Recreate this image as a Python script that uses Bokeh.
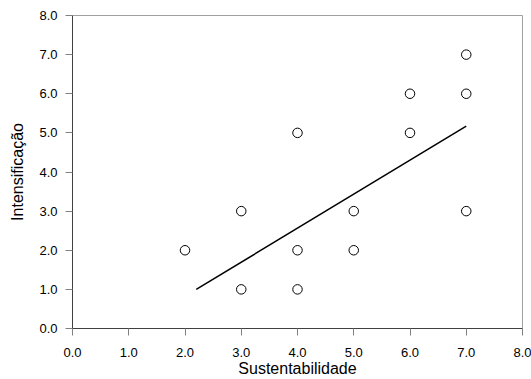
from bokeh.plotting import figure
from bokeh.models import Range1d, FixedTicker
from bokeh.embed import file_html
from bokeh.resources import INLINE

# data
sust = [2, 3, 3, 4, 4, 4, 5, 5, 6, 6, 7, 7, 7]
intens = [2, 3, 1, 5, 2, 1, 3, 2, 6, 5, 7, 6, 3]
fit_x = [2.2, 7.0]
fit_y = [1.0, 5.17]
ticks = [0, 1, 2, 3, 4, 5, 6, 7, 8]
tick_labels = {t: f"{t:.1f}" for t in ticks}

FONT = "Liberation Sans"

p = figure(width=531, height=379, output_backend="svg", toolbar_location=None,
           x_range=Range1d(0, 8), y_range=Range1d(0, 8),
           min_border_left=72, min_border_right=9, min_border_top=15, min_border_bottom=51)

p.grid.visible = False
p.outline_line_color = "#a0a0a0"
p.outline_line_width = 1

p.line(fit_x, fit_y, line_color="black", line_width=1.5)
p.scatter(sust, intens, marker="circle", size=9.5, fill_color="white",
          line_color="black", line_width=1)

for ax in (p.xaxis[0], p.yaxis[0]):
    ax.ticker = FixedTicker(ticks=ticks)
    ax.major_label_overrides = tick_labels
    ax.minor_tick_line_color = None
    ax.major_tick_in = 0
    ax.major_tick_out = 7
    ax.major_tick_line_color = "#808080"
    ax.axis_line_color = "#404040"
    ax.major_label_text_font = FONT
    ax.major_label_text_font_size = "13px"
    ax.major_label_text_color = "black"
    ax.axis_label_text_font = FONT
    ax.axis_label_text_font_size = "16px"
    ax.axis_label_text_font_style = "normal"
    ax.axis_label_text_color = "black"

p.xaxis.axis_label = "Sustentabilidade"
p.yaxis.axis_label = "Intensificação"
p.xaxis.major_label_standoff = 12
p.xaxis.axis_label_standoff = 0
p.yaxis.major_label_standoff = 8
p.yaxis.axis_label_standoff = 10

open("out.html", "w").write(file_html(p, INLINE))
